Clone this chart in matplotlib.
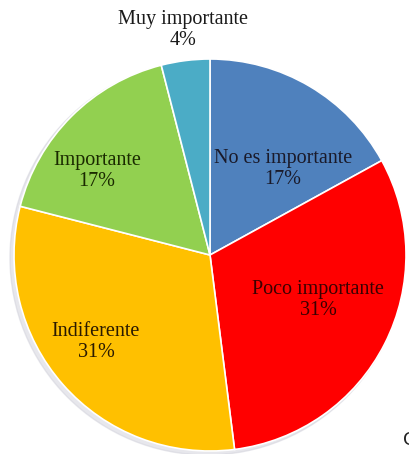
import matplotlib.pyplot as plt

categories = ['No es importante', 'Poco importante', 'Indiferente', 'Importante', 'Muy importante']
percents = [17, 31, 31, 17, 4]
colors = ['#4F81BD', '#FF0000', '#FFC000', '#92D050', '#4BACC6']
text_colors = ['#1a1a2a', '#3a0000', '#2a1a00', '#1a2a00', '#1a1a1a']

# label anchor points in pixel coords (x, y from top)
label_pos = [(283, 169), (318, 300), (96, 342), (97, 171), (183, 30)]

W, H = 409, 454
fig = plt.figure(figsize=(W / 100, H / 100), dpi=100)
ax = fig.add_axes([0, 0, 1, 1])

cx, cy, r = 210, H - 255, 196

# faint shadow
shadow = plt.Circle((cx - 3, cy - 3), r + 1, color='#d0d0da', alpha=0.5, zorder=0)
ax.add_patch(shadow)

ax.pie(percents, colors=colors, startangle=90, counterclock=False,
       center=(cx, cy), radius=r, frame=True,
       wedgeprops=dict(edgecolor='white', linewidth=1.2))
ax.set_xlim(0, W)
ax.set_ylim(0, H)
ax.axis('off')

for cat, p, (x, y), tc in zip(categories, percents, label_pos, text_colors):
    ax.text(x, H - y, f'{cat}\n{p}%', ha='center', va='center',
            fontsize=14.5, family='Liberation Serif', color=tc,
            linespacing=1.2, zorder=5)

ax.text(403, H - 440, 'C', ha='left', va='center', fontsize=13,
        family='DejaVu Sans', color='#222222')

fig.savefig('out.png', dpi=100)
